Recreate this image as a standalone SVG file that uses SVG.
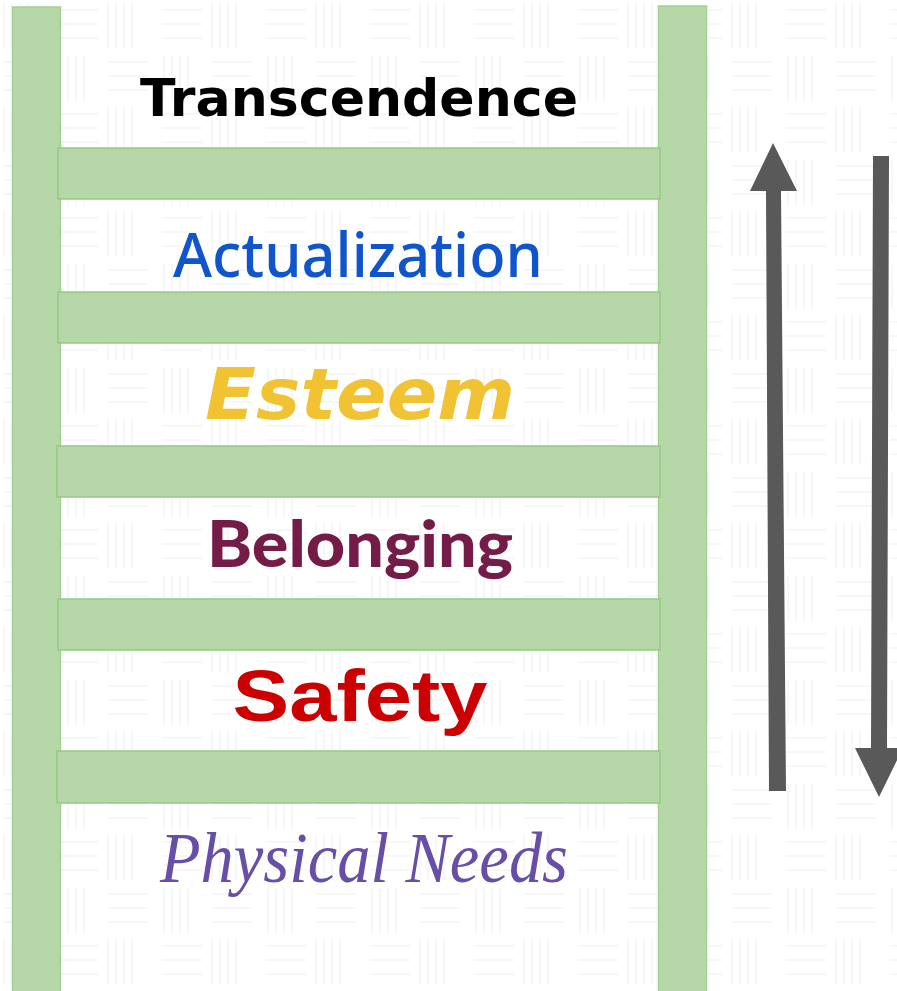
<svg xmlns="http://www.w3.org/2000/svg" width="897" height="991" viewBox="0 0 897 991">
  <defs>
    <pattern id="weave" x="0" y="0" width="104" height="104" patternUnits="userSpaceOnUse">
      <g stroke="#f5f5f5" stroke-width="1.5" fill="none">
        <path d="M4 4v44M12 4v44M20 4v44M28 4v44"/>
        <path d="M58 10h40M58 24h40M58 38h40"/>
        <path d="M4 62h40M4 76h40M4 90h40"/>
        <path d="M60 56v44M68 56v44M76 56v44M84 56v44"/>
      </g>
    </pattern>
    <style>
      .rail { fill: #b6d7a8; stroke: #a3d18f; stroke-width: 1.5; }
      .rung { fill: #b6d7a8; stroke: #97c985; stroke-width: 1.5; }
      .arrow { fill: #595959; }
      text { text-anchor: middle; }
    </style>
  </defs>
  <rect width="897" height="991" fill="#ffffff"/>
  <rect width="897" height="991" fill="url(#weave)"/>

  <g id="rails">
    <rect id="rail-left" class="rail" x="12.5" y="7" width="48" height="990"/>
    <rect id="rail-right" class="rail" x="658.5" y="6" width="48" height="990"/>
  </g>

  <g id="rungs">
    <rect class="rung" x="58" y="148" width="602" height="51"/>
    <rect class="rung" x="58" y="292" width="602" height="51"/>
    <rect class="rung" x="57" y="446" width="603" height="51"/>
    <rect class="rung" x="58" y="599" width="602" height="51"/>
    <rect class="rung" x="57" y="751" width="603" height="52"/>
  </g>

  <g id="connectors">
    <polygon id="arrow-up" class="arrow" points="773,143 797,191 781,191 786,791 769,791 766,191 750,191"/>
    <polygon id="arrow-down" class="arrow" points="873,156 889,156 887,748 903,748 879,797 855,748 871,748"/>
  </g>

  <g id="node-transcendence">
    <text x="359" y="116" font-family="'DejaVu Sans', sans-serif" font-weight="bold" font-size="52" fill="#000000" textLength="438" lengthAdjust="spacingAndGlyphs">Transcendence</text>
  </g>
  <g id="node-actualization">
    <text x="358" y="277" font-family="'Noto Sans', sans-serif" font-weight="500" font-size="62" fill="#1155cc" textLength="370" lengthAdjust="spacingAndGlyphs">Actualization</text>
  </g>
  <g id="node-esteem">
    <text x="360" y="419" font-family="'DejaVu Sans', sans-serif" font-weight="bold" font-style="italic" font-size="72" fill="#f1c232" textLength="310" lengthAdjust="spacingAndGlyphs">Esteem</text>
  </g>
  <g id="node-belonging">
    <text x="360" y="567" font-family="'Lato', sans-serif" font-weight="900" font-size="64" fill="#741b47" textLength="306" lengthAdjust="spacingAndGlyphs">Belonging</text>
  </g>
  <g id="node-safety">
    <text x="360" y="721" font-family="'Liberation Sans', sans-serif" font-weight="bold" font-size="72" fill="#cc0000" textLength="255" lengthAdjust="spacingAndGlyphs">Safety</text>
  </g>
  <g id="node-physical">
    <text x="364" y="882" font-family="'Liberation Serif', serif" font-style="italic" font-size="72" fill="#674ea7" textLength="408" lengthAdjust="spacingAndGlyphs">Physical Needs</text>
  </g>
</svg>
